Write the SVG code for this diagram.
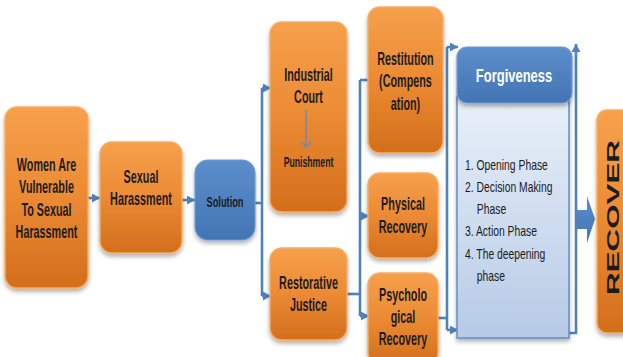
<svg xmlns="http://www.w3.org/2000/svg" width="623" height="357" viewBox="0 0 623 357">
  <defs>
    <linearGradient id="orange" x1="0" y1="0" x2="0" y2="1">
      <stop offset="0" stop-color="#F7A04C"/>
      <stop offset="0.5" stop-color="#EB8A33"/>
      <stop offset="1" stop-color="#D36E1C"/>
    </linearGradient>
    <linearGradient id="blue" x1="0" y1="0" x2="0" y2="1">
      <stop offset="0" stop-color="#5C8ECB"/>
      <stop offset="1" stop-color="#4374B4"/>
    </linearGradient>
    <linearGradient id="pale" x1="0" y1="0" x2="0" y2="1">
      <stop offset="0" stop-color="#E9F0F9"/>
      <stop offset="1" stop-color="#B6CAE6"/>
    </linearGradient>
    <filter id="shadow" x="-20%" y="-20%" width="140%" height="140%">
      <feDropShadow dx="0" dy="3" stdDeviation="2" flood-color="#000" flood-opacity="0.3"/>
    </filter>
    <marker id="head" markerUnits="userSpaceOnUse" markerWidth="9" markerHeight="9" refX="8" refY="4.5" orient="auto">
      <path d="M0,0 L8,4.5 L0,9 z" fill="#4F81BD"/>
    </marker>
    <marker id="vee" markerUnits="userSpaceOnUse" markerWidth="10" markerHeight="10" refX="5" refY="5" orient="auto">
      <path d="M0,0.5 L5,5 L0,9.5" fill="none" stroke="#5B8BC7" stroke-width="1.3"/>
    </marker>
  </defs>
  <style>
    .box { fill: url(#orange); stroke: #F8AC62; stroke-width: 1.5; filter: url(#shadow); }
    .bbox { fill: url(#blue); stroke: #6E9AD0; stroke-width: 1.2; filter: url(#shadow); }
    .t { font-family: "Liberation Sans", Arial, sans-serif; font-weight: bold; font-size: 18px; fill: #1c1c1c; text-anchor: middle; }
    .s { font-size: 14.5px; }
    .list { font-family: "Liberation Sans", Arial, sans-serif; font-size: 14px; fill: #1c1c1c; }
    .edge { fill: none; stroke: #4F81BD; stroke-width: 2.6; }
  </style>

  <rect width="623" height="357" fill="#ffffff"/>

  <!-- connectors -->
  <g id="connectors">
    <path class="edge" d="M88,198 H100" marker-end="url(#head)"/>
    <path class="edge" d="M182,200 H195" marker-end="url(#head)"/>
    <path class="edge" d="M255,203 H262"/>
    <path class="edge" d="M262,88 V296"/>
    <path class="edge" d="M262,88 H271" marker-end="url(#head)"/>
    <path class="edge" d="M262,296 H271" marker-end="url(#head)"/>
    <path class="edge" d="M347,294 H360"/>
    <path class="edge" d="M360,80 V316"/>
    <path class="edge" d="M360,80 H369"/>
    <path class="edge" d="M360,216 H369" marker-end="url(#head)"/>
    <path class="edge" d="M360,316 H369" marker-end="url(#head)"/>
    <path class="edge" d="M438,318 H447"/>
    <path class="edge" d="M447,47 V330"/>
    <path class="edge" d="M447,47 H458" marker-end="url(#head)"/>
    <path class="edge" d="M447,330 H458" marker-end="url(#head)"/>
    <path class="edge" d="M568,333 H576 V44" marker-end="url(#head)"/>
    <path d="M577,210 H587 V196 L595,219 L587,243 V229 H577 z" fill="url(#blue)"/>
  </g>

  <g id="women-vulnerable">
    <rect class="box" x="5" y="107" width="83" height="181" rx="12"/>
    <g transform="translate(46.5,0) scale(0.6,1)">
      <text class="t" x="0" y="171">Women Are</text>
      <text class="t" x="0" y="193">Vulnerable</text>
      <text class="t" x="0" y="216">To Sexual</text>
      <text class="t" x="0" y="238">Harassment</text>
    </g>
  </g>

  <g id="sexual-harassment">
    <rect class="box" x="100" y="142" width="82" height="111" rx="12"/>
    <g transform="translate(141,0) scale(0.6,1)">
      <text class="t" x="0" y="183">Sexual</text>
      <text class="t" x="0" y="205">Harassment</text>
    </g>
  </g>

  <g id="solution">
    <rect class="bbox" x="195" y="160" width="60" height="80" rx="13"/>
    <g transform="translate(225,0) scale(0.64,1)">
      <text class="t s" x="0" y="207">Solution</text>
    </g>
  </g>

  <g id="industrial-court">
    <rect class="box" x="270" y="22" width="77" height="190" rx="12"/>
    <g transform="translate(308.5,0) scale(0.6,1)">
      <text class="t" x="0" y="81">Industrial</text>
      <text class="t" x="0" y="103">Court</text>
      <text class="t s" x="0" y="167">Punishment</text>
    </g>
    <path d="M306,110 V147" stroke="#5B8BC7" stroke-width="1.3" fill="none" marker-end="url(#vee)"/>
  </g>

  <g id="restorative-justice">
    <rect class="box" x="270" y="248" width="77" height="92" rx="12"/>
    <g transform="translate(308.5,0) scale(0.6,1)">
      <text class="t" x="0" y="289">Restorative</text>
      <text class="t" x="0" y="311">Justice</text>
    </g>
  </g>

  <g id="restitution">
    <rect class="box" x="368" y="7" width="75" height="146" rx="12"/>
    <g transform="translate(405.5,0) scale(0.6,1)">
      <text class="t" x="0" y="65">Restitution</text>
      <text class="t" x="0" y="87">(Compens</text>
      <text class="t" x="0" y="110">ation)</text>
    </g>
  </g>

  <g id="physical-recovery">
    <rect class="box" x="368" y="173" width="70" height="85" rx="12"/>
    <g transform="translate(403,0) scale(0.6,1)">
      <text class="t" x="0" y="210">Physical</text>
      <text class="t" x="0" y="233">Recovery</text>
    </g>
  </g>

  <g id="psychological-recovery">
    <rect class="box" x="368" y="273" width="70" height="92" rx="12"/>
    <g transform="translate(403,0) scale(0.6,1)">
      <text class="t" x="0" y="301">Psycholo</text>
      <text class="t" x="0" y="323">gical</text>
      <text class="t" x="0" y="345">Recovery</text>
    </g>
  </g>

  <g id="forgiveness">
    <rect x="457" y="96" width="112" height="242" fill="url(#pale)" stroke="#5F8DC8" stroke-width="1.5" filter="url(#shadow)"/>
    <rect class="bbox" x="457" y="47" width="115" height="56" rx="10"/>
    <g transform="translate(514,0) scale(0.72,1)">
      <text class="t" x="0" y="82" style="fill:#ffffff">Forgiveness</text>
    </g>
    <g transform="translate(465,0) scale(0.74,1)">
      <text class="list" x="0" y="170">1. Opening Phase</text>
      <text class="list" x="0" y="192">2. Decision Making</text>
      <text class="list" x="16" y="214">Phase</text>
      <text class="list" x="0" y="236">3. Action Phase</text>
      <text class="list" x="0" y="259">4. The deepening</text>
      <text class="list" x="16" y="281">phase</text>
    </g>
  </g>

  <g id="recover">
    <rect class="box" x="597" y="110" width="40" height="223" rx="10"/>
    <g transform="translate(618.5,295) scale(0.52,1) rotate(-90)">
      <text class="t" x="0" y="0" style="font-size:31px;text-anchor:start" textLength="155" lengthAdjust="spacingAndGlyphs">RECOVER</text>
    </g>
  </g>
</svg>
